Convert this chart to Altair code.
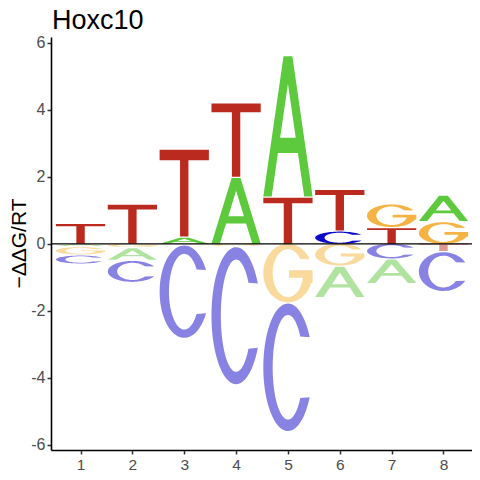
import altair as alt
import numpy as np
import pandas as pd

# ---- data (signed energy heights, stacked outward from 0) ----
title_text = "Hoxc10"
positions = [1, 2, 3, 4, 5, 6, 7, 8]
letters_up = [["T"], ["T"], ["A", "T"], ["A", "T"], ["T", "A"], ["C", "T"], ["T", "G"], ["G", "A"]]
heights_up = [[0.63], [1.20], [0.22, 2.62], [2.00, 2.22], [1.41, 4.22], [0.40, 1.24], [0.50, 0.71], [0.68, 0.79]]
letters_dn = [["A", "G", "C"], ["G", "A", "C"], ["G", "C"], ["G", "C"], ["G", "C"], ["G", "A"], ["C", "A"], ["T", "C"]]
heights_dn = [[0.10, 0.25, 0.27], [0.13, 0.38, 0.66], [0.05, 2.79], [0.10, 4.12], [1.78, 3.84], [0.68, 0.94], [0.47, 0.73], [0.25, 1.19]]

col_up = {"A": "#5DC93C", "C": "#0A0AC8", "G": "#F5B343", "T": "#BB2A1F"}
col_dn = {"A": "#B1E3A0", "C": "#8882E3", "G": "#FAD99D", "T": "#DC9A94"}

# ---- letter outlines in a unit box ----
def arc(cx, cy, rx, ry, a0, a1, n):
    t = np.radians(np.linspace(a0, a1, n))
    return list(zip(cx + rx * np.cos(t), cy + ry * np.sin(t)))

GLYPH = {
    "T": [(0, 1), (1, 1), (1, 0.88), (0.585, 0.88), (0.585, 0), (0.415, 0), (0.415, 0.88), (0, 0.88)],
    "A": [(0, 0), (0.17, 0), (0.297, 0.31), (0.5, 0.31), (0.5, 0.42), (0.342, 0.42), (0.5, 0.805),
          (0.658, 0.42), (0.5, 0.42), (0.5, 0.31), (0.703, 0.31), (0.83, 0), (1, 0), (0.59, 1), (0.41, 1)],
    "C": arc(0.5, 0.5, 0.5, 0.5, 28, 332, 70) + arc(0.5, 0.5, 0.31, 0.41, 324, 36, 70),
    "G": arc(0.5, 0.5, 0.5, 0.5, 28, 340, 70)
         + [(1.0, 0.33), (1.0, 0.55), (0.52, 0.55), (0.52, 0.42), (0.81, 0.42)]
         + arc(0.5, 0.5, 0.31, 0.41, 348, 36, 60),
}
W = 0.95     # letter width in position units
GAP = 0.035  # small gap between stacked letters

rows = []
gid = 0
for p, lu, hu, ld, hd in zip(positions, letters_up, heights_up, letters_dn, heights_dn):
    base = 0.0
    for L, h in zip(lu, hu):
        y0, y1 = base, base + h - GAP
        for i, (u, v) in enumerate(GLYPH[L]):
            rows.append(dict(g=gid, i=i, x=p - W / 2 + u * W, y=y0 + v * (y1 - y0), c=col_up[L]))
        gid += 1
        base += h
    base = 0.0
    for L, h in zip(ld, hd):
        y1, y0 = base, base - h + GAP
        for i, (u, v) in enumerate(GLYPH[L]):
            rows.append(dict(g=gid, i=i, x=p - W / 2 + u * W, y=y0 + v * (y1 - y0), c=col_dn[L]))
        gid += 1
        base -= h

df = pd.DataFrame(rows)

FONT = "Liberation Sans"
xs = alt.Scale(domain=[0.43, 8.55], nice=False, zero=False)
ys = alt.Scale(domain=[-6.15, 6.17], nice=False, zero=False)

letters = alt.Chart(df).mark_line(strokeOpacity=0, clip=True, interpolate="linear").encode(
    x=alt.X("x:Q", scale=xs, title=None,
            axis=alt.Axis(values=positions, grid=False, labelFontSize=15.5, labelFont=FONT,
                          labelColor="#4D4D4D", tickColor="#333333", tickSize=4, tickWidth=1.5,
                          domainColor="black", domainWidth=1.6, labelPadding=3)),
    y=alt.Y("y:Q", scale=ys,
            axis=alt.Axis(values=[-6, -4, -2, 0, 2, 4, 6], grid=False, labelFontSize=16, labelFont=FONT,
                          labelColor="#4D4D4D", tickColor="#333333", tickSize=4, tickWidth=1.5,
                          domainColor="black", domainWidth=1.6, labelPadding=2,
                          labelExpr="'' + datum.value",
                          title="\u2212\u0394\u0394G/RT", titleFont=FONT, titleFontSize=21,
                          titleFontWeight="normal", titleColor="black", titleAngle=270,
                          titleX=-26, titleY=206, titleAlign="center", titleBaseline="alphabetic")),
    detail="g:N",
    order="i:Q",
    fill=alt.Fill("c:N", scale=None),
)

zero_line = alt.Chart(pd.DataFrame({"y": [0]})).mark_rule(color="black", strokeWidth=1.3).encode(
    y=alt.Y("y:Q", scale=ys)
)

title_mark = alt.Chart(pd.DataFrame({"t": [title_text]})).mark_text(
    align="left", baseline="alphabetic", fontSize=27, font=FONT, color="black", clip=False
).encode(x=alt.value(1), y=alt.value(-8), text="t:N")

chart = alt.layer(letters, zero_line, title_mark).properties(
    width=421, height=413,
    autosize=alt.AutoSizeParams(type="none"),
    padding={"left": 43, "top": 29, "right": 0, "bottom": 22},
).configure_view(stroke=None)

chart.save("out.html", embed_options={"renderer": "svg", "actions": False})
